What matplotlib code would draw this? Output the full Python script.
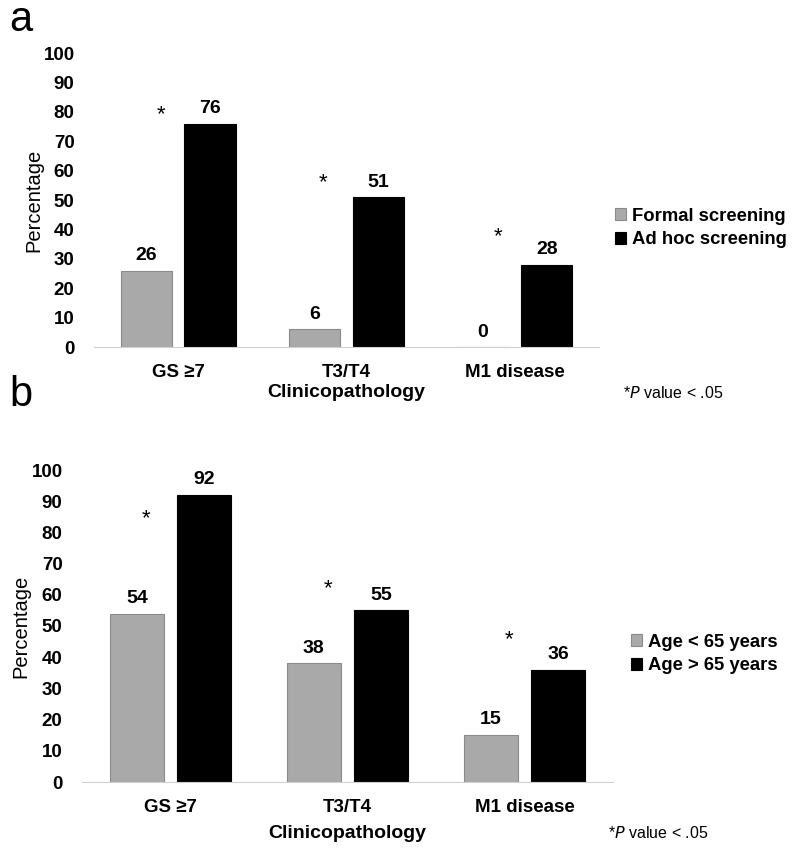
import numpy as np
import matplotlib as mpl
mpl.use('Agg')
import matplotlib.pyplot as plt

plt.rcParams['font.family'] = ['Liberation Sans', 'DejaVu Sans']

categories = ['GS \u22657', 'T3/T4', 'M1 disease']

# panel a
a_labels = ['Formal screening', 'Ad hoc screening']
a_formal = [26, 6, 0]
a_adhoc = [76, 51, 28]
a_stars = [79, 56, 37.5]

# panel b
b_labels = ['Age < 65 years', 'Age > 65 years']
b_young = [54, 38, 15]
b_old = [92, 55, 36]
b_stars = [84.5, 62, 45.5]

yticks = list(range(0, 101, 10))

W, H = 800, 855
fig = plt.figure(figsize=(W/100, H/100), dpi=100)

def box(l, r, top, bot):
    return [l/W, 1 - bot/H, (r - l)/W, (bot - top)/H]

GRAY = '#a9a9a9'

def panel(ax, s1, s2, labels, stars, dx_star, legend_xy, ylpad):
    x = np.arange(len(categories))
    w = 0.305
    off = 0.19
    ax.bar(x - off, s1, w, color=GRAY, edgecolor='#8a8a8a', linewidth=0.8, label=labels[0])
    ax.bar(x + off, s2, w, color='black', edgecolor='black', linewidth=0.8, label=labels[1])
    for i in x:
        ax.text(i - off, s1[i] + 2.2, str(s1[i]), ha='center', va='bottom',
                fontsize=14, fontweight='bold')
        ax.text(i + off, s2[i] + 2.2, str(s2[i]), ha='center', va='bottom',
                fontsize=14, fontweight='bold')
        ax.text(i + dx_star[i], stars[i], '*', ha='center', va='center', fontsize=16)
    ax.set_xlim(-0.5, 2.5)
    ax.set_ylim(0, 100)
    ax.set_yticks(yticks)
    ax.set_xticks(x)
    ax.set_xticklabels(categories, fontsize=13.5, fontweight='bold')
    for t in ax.get_yticklabels():
        t.set_fontsize(13.5)
        t.set_fontweight('bold')
    ax.tick_params(length=0, pad=14)
    ax.tick_params(axis='x', pad=12)
    for s in ['left', 'right', 'top']:
        ax.spines[s].set_visible(False)
    ax.spines['bottom'].set_color('#d0d0d0')
    ax.set_ylabel('Percentage', fontsize=14.5, labelpad=ylpad)
    ax.legend(loc='center left', bbox_to_anchor=legend_xy, frameon=False,
              prop={'size': 13.3, 'weight': 'bold'}, handlelength=0.6,
              handleheight=0.6, handletextpad=0.3, labelspacing=0.35, borderaxespad=0)
    return ax

# panel a
ax1 = fig.add_axes(box(94, 599, 53, 347))
panel(ax1, a_formal, a_adhoc, a_labels, a_stars, [-0.1, -0.14, -0.1], (1.017, 0.405), 0)
ax1.text(0.5, -0.155, 'Clinicopathology', transform=ax1.transAxes, ha='center',
         va='center', fontsize=14, fontweight='bold')
fig.text(623/W, 1 - 393/H, '*$\\it{P}$ value < .05', fontsize=11.5, va='center')
fig.text(9/W, 1 - 20/H, 'a', fontsize=30, va='center')

# panel b
ax2 = fig.add_axes(box(82, 613, 470, 782))
panel(ax2, b_young, b_old, b_labels, b_stars, [-0.14, -0.11, -0.09], (1.02, 0.41), 1)
ax2.text(0.5, -0.165, 'Clinicopathology', transform=ax2.transAxes, ha='center',
         va='center', fontsize=14, fontweight='bold')
fig.text(608/W, 1 - 833/H, '*$\\it{P}$ value < .05', fontsize=11.5, va='center')
fig.text(9/W, 1 - 395/H, 'b', fontsize=30, va='center')

fig.savefig('out.png', dpi=100)
